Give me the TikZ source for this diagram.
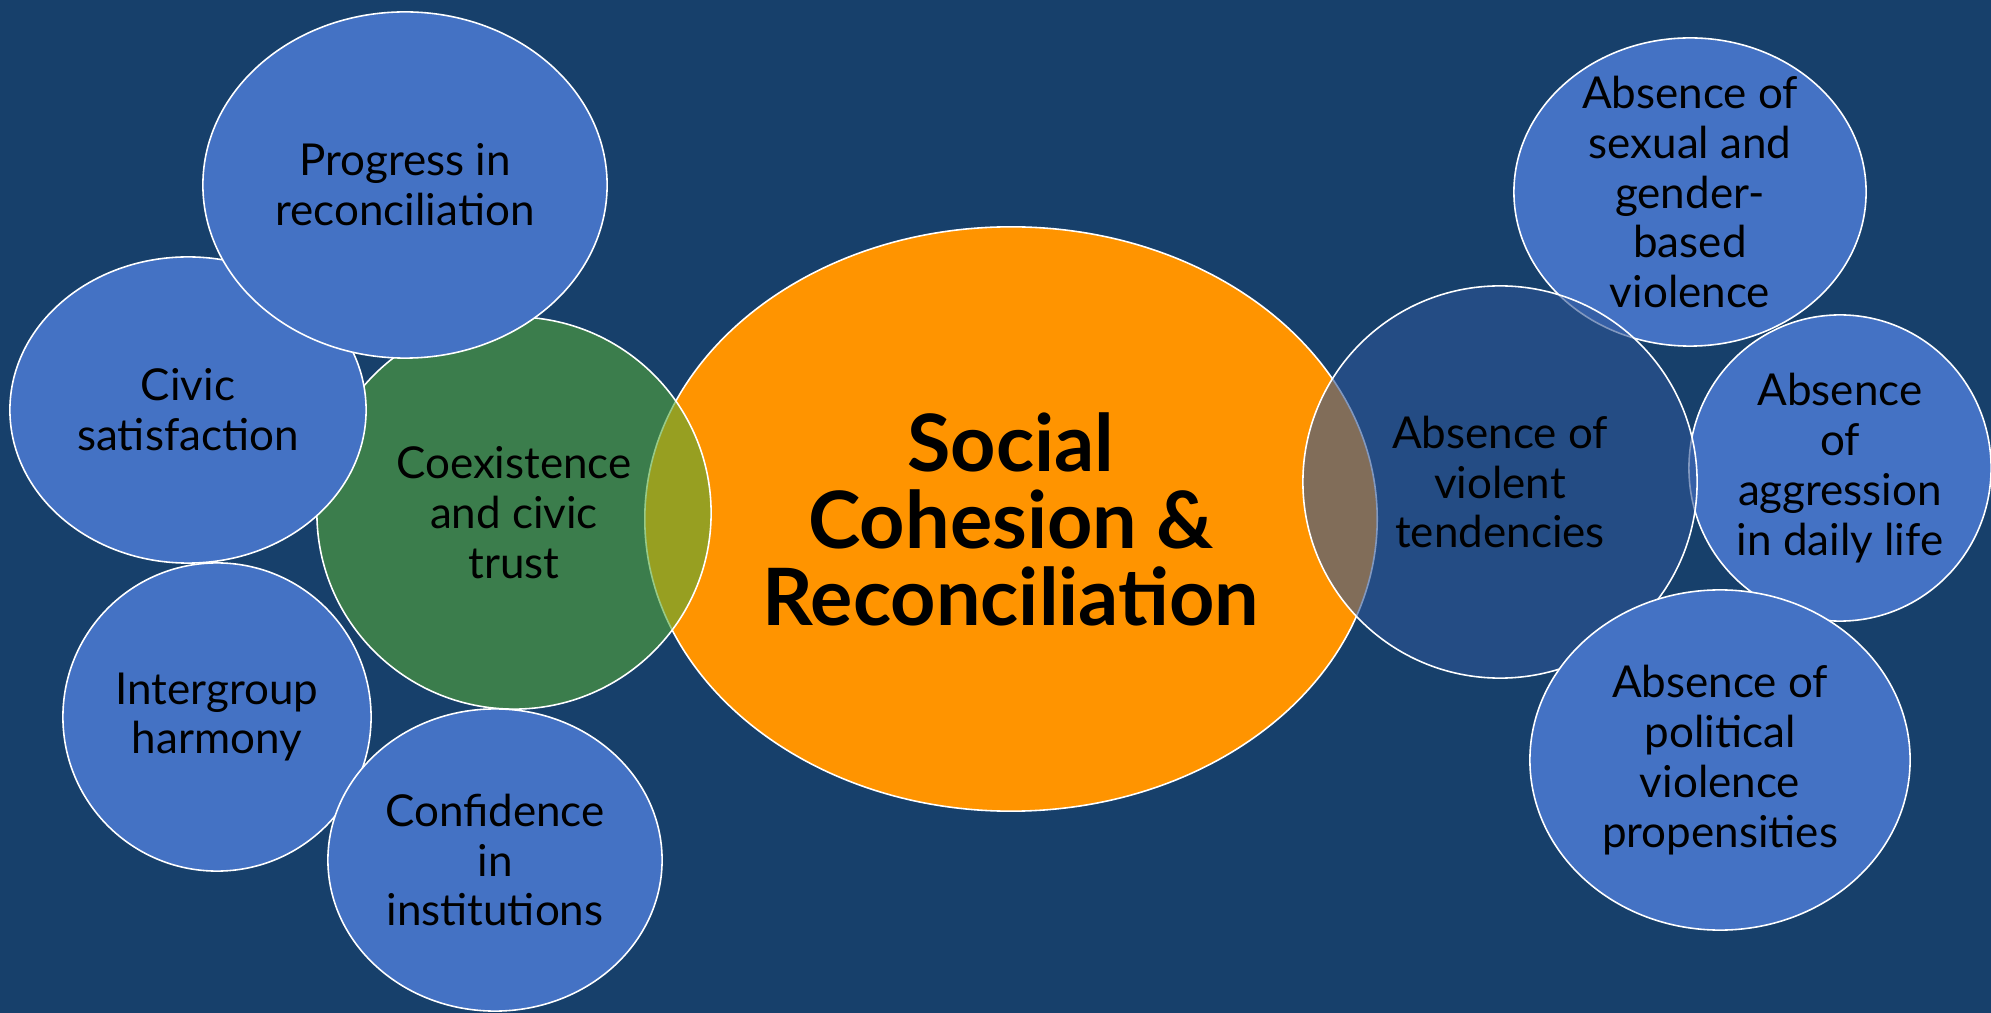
\documentclass[tikz,border=0pt]{standalone}
\usepackage{fontspec}
\setmainfont{Lato}
\usetikzlibrary{shapes.geometric}
\definecolor{bgblue}{RGB}{23,64,107}
\definecolor{bubbleblue}{RGB}{68,114,196}
\definecolor{cohorange}{RGB}{255,148,0}
\definecolor{trustgreen}{RGB}{83,167,56}
\definecolor{violblue}{RGB}{46,84,149}

\begin{document}
\begin{tikzpicture}[x=0.01cm,y=-0.01cm,
			bubble/.style={ellipse,draw=white,line width=0.45pt,inner sep=0pt,fill=bubbleblue},
			see through/.style={fill opacity=0.6},
			bubbletext/.style={align=center,text=black,inner sep=0pt,
			font=\fontsize{12.5}{14.2}\selectfont}
			]
		\fill[bgblue] (0,0) rectangle (1991,1013);
		\useasboundingbox (0,0) rectangle (1991,1013);
		% centre
		\node[bubble,fill=cohorange,minimum width=7.32cm,minimum height=5.84cm] (hoofd) at (1011,519) {};
		\node[bubbletext,font=\fontsize{22.5}{21.9}\selectfont\bfseries] (hoofdt) at (hoofd) {Social\\Cohesion \&\\Reconciliation};
		% left side
		\node[bubble,see through,fill=trustgreen,minimum width=3.94cm,minimum height=3.92cm] (a1) at (514,513) {};
		\node[bubbletext] (a1t) at (a1) {Coexistence\\and civic\\trust};
		\node[bubble,minimum width=3.56cm,minimum height=3.06cm] (b1) at (188,410) {};
		\node[bubbletext] (b1t) at (b1) {Civic\\satisfaction};
		\node[bubble,minimum width=3.08cm,minimum height=3.08cm] (b2) at (217,717) {};
		\node[bubbletext] (b2t) at (b2) {Intergroup\\harmony};
		\node[bubble,minimum width=3.34cm,minimum height=3.02cm] (b3) at (495,860) {};
		\node[bubbletext] (b3t) at (b3) {Confidence\\in\\institutions};
		\node[bubble,minimum width=4.04cm,minimum height=3.46cm] (b4) at (405,185) {};
		\node[bubbletext] (b4t) at (b4) {Progress in\\reconciliation};
		% right side
		\node[bubble,minimum width=3.52cm,minimum height=3.08cm] (b5) at (1690,192) {};
		\node[bubbletext] (b5t) at (b5) {Absence of\\sexual and\\gender-\\based\\violence};
		\node[bubble,minimum width=3.02cm,minimum height=3.06cm] (b6) at (1840,468) {};
		\node[bubbletext] (b6t) at (b6) {Absence\\of\\aggression\\in daily life};
		\node[bubble,see through,fill=violblue,minimum width=3.94cm,minimum height=3.92cm] (a2) at (1500,482) {};
		\node[bubbletext] (a2t) at (a2) {Absence of\\violent\\tendencies};
		\node[bubble,minimum width=3.80cm,minimum height=3.40cm] (b7) at (1720,760) {};
		\node[bubbletext] (b7t) at (b7) {Absence of\\political\\violence\\propensities};
	\end{tikzpicture}
\end{document}
